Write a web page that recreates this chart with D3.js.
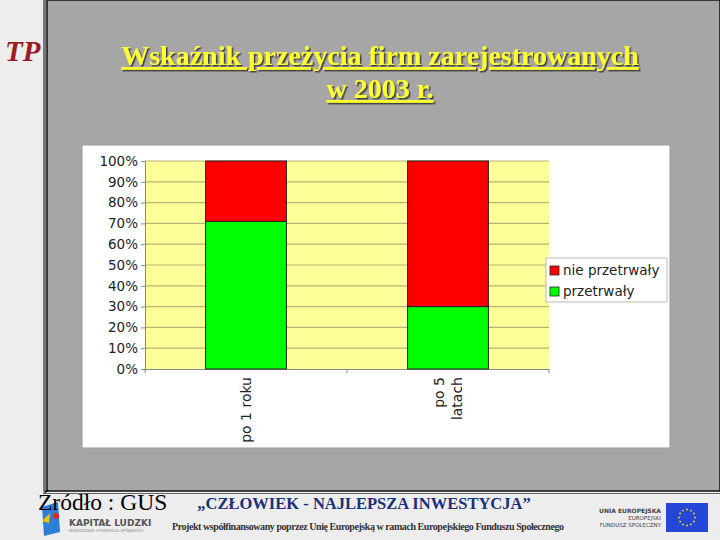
<!DOCTYPE html>
<html>
<head>
<meta charset="utf-8">
<script src="https://cdn.jsdelivr.net/npm/d3@7"></script>
<style>
  body { margin: 0; background: #ededed; }
  svg { display: block; }
</style>
</head>
<body>
<script>
var width = 720,
  height = 540;

// data
var categories = [["po 1 roku"], ["po 5", "latach"]];
var survived = [71, 30];          // przetrwały
var notSurvived = [29, 70];       // nie przetrwały
var seriesNames = ["nie przetrwały", "przetrwały"];
var seriesColors = ["#ff0000", "#00ff00"];
var yTicks = [0, 10, 20, 30, 40, 50, 60, 70, 80, 90, 100];

var svg = d3.select("body").append("svg")
  .attr("width", width)
  .attr("height", height);

var defs = svg.append("defs");
defs.append("filter").attr("id", "shadow")
  .attr("x", "-5%").attr("y", "-20%").attr("width", "110%").attr("height", "140%")
  .append("feDropShadow")
  .attr("dx", 1.5).attr("dy", 1.5).attr("stdDeviation", 0.6)
  .attr("flood-color", "#333").attr("flood-opacity", 0.9);

// slide background
svg.append("rect").attr("x", 0).attr("y", 0).attr("width", width).attr("height", height).attr("fill", "#ededed");
svg.append("rect").attr("x", 43).attr("y", 0).attr("width", 3).attr("height", 492).attr("fill", "#777");
svg.append("rect").attr("x", 47).attr("y", 0).attr("width", 673).attr("height", 491)
  .attr("fill", "#a6a6a6").attr("stroke", "#111").attr("stroke-width", 1.5);
svg.append("line").attr("x1", 43).attr("x2", 720).attr("y1", 493.5).attr("y2", 493.5).attr("stroke", "#666").attr("stroke-width", 1);

// TP logo
svg.append("text").attr("x", 5).attr("y", 61)
  .attr("font-family", "Liberation Serif, serif").attr("font-style", "italic").attr("font-weight", "bold")
  .attr("font-size", 29).attr("fill", "#9b1b24").text("TP");

// title
var title = svg.append("g")
  .attr("font-family", "Liberation Serif, serif").attr("font-weight", "bold")
  .attr("font-size", 28).attr("text-anchor", "middle")
  .attr("filter", "url(#shadow)");
[["Wskaźnik przeżycia firm zarejestrowanych", 65], ["w 2003 r.", 98]].forEach(function(t) {
  title.append("text").attr("x", 380).attr("y", t[1])
    .attr("fill", "#ffff33").attr("text-decoration", "underline").text(t[0]);
});

// chart box
svg.append("rect").attr("x", 82).attr("y", 145).attr("width", 588).attr("height", 303)
  .attr("fill", "#fff").attr("stroke", "#999");

var plot = { left: 145, right: 549, top: 161, bottom: 369 };

var x = d3.scaleBand()
  .domain(d3.range(categories.length))
  .range([plot.left, plot.right]);

var barFrac = 0.4;

var y = d3.scaleLinear()
  .domain([0, 100])
  .range([plot.bottom, plot.top]);

var g = svg.append("g");

g.append("rect").attr("x", plot.left).attr("y", plot.top)
  .attr("width", plot.right - plot.left).attr("height", plot.bottom - plot.top)
  .attr("fill", "#ffff99");

g.selectAll("line.grid")
  .data(yTicks.slice(1))
  .enter().append("line")
  .attr("class", "grid")
  .attr("x1", plot.left).attr("x2", plot.right)
  .attr("y1", function(d) { return y(d); }).attr("y2", function(d) { return y(d); })
  .attr("stroke", "#b8b27a").attr("stroke-width", 1.2);

// y axis
var yAxis = d3.axisLeft(y)
  .tickValues(yTicks)
  .tickSize(4)
  .tickFormat(function(d) { return d + "%"; });

g.append("g")
  .attr("transform", "translate(" + plot.left + ",0)")
  .call(yAxis)
  .call(function(s) {
    s.select(".domain").attr("stroke", "#888");
    s.selectAll(".tick line").attr("stroke", "#888");
    s.selectAll(".tick text").attr("font-family", "DejaVu Sans, sans-serif")
      .attr("font-size", 13.5).attr("fill", "#222").attr("x", -7);
  });

// x axis baseline and separator ticks
g.append("line").attr("x1", plot.left).attr("x2", plot.right)
  .attr("y1", plot.bottom + 0.5).attr("y2", plot.bottom + 0.5).attr("stroke", "#888");
g.selectAll("line.sep")
  .data([plot.left, (plot.left + plot.right) / 2, plot.right])
  .enter().append("line")
  .attr("x1", function(d) { return d; }).attr("x2", function(d) { return d; })
  .attr("y1", plot.bottom).attr("y2", plot.bottom + 4).attr("stroke", "#888");

// stacked bars
var stackData = categories.map(function(c, i) {
  return { i: i, "przetrwały": survived[i], "nie przetrwały": notSurvived[i] };
});
var stack = d3.stack().keys(["przetrwały", "nie przetrwały"]);
var layers = stack(stackData);

g.selectAll("g.layer")
  .data(layers)
  .enter().append("g")
  .attr("fill", function(d) { return d.key === "przetrwały" ? seriesColors[1] : seriesColors[0]; })
  .selectAll("rect")
  .data(function(d) { return d; })
  .enter().append("rect")
  .attr("x", function(d) { return x(d.data.i) + x.bandwidth() * (1 - barFrac) / 2; })
  .attr("width", x.bandwidth() * barFrac)
  .attr("y", function(d) { return y(d[1]); })
  .attr("height", function(d) { return y(d[0]) - y(d[1]); })
  .attr("stroke", "#222").attr("stroke-width", 1);

// category labels (rotated)
categories.forEach(function(lines, i) {
  var cx = x(i) + x.bandwidth() / 2;
  var t = svg.append("text")
    .attr("transform", "translate(" + cx + "," + (plot.bottom + 8) + ") rotate(-90)")
    .attr("text-anchor", "end")
    .attr("font-family", "DejaVu Sans, sans-serif").attr("font-size", 14).attr("fill", "#222");
  var n = lines.length;
  lines.forEach(function(l, k) {
    t.append("tspan").attr("x", 0)
      .attr("y", (k - (n - 1) / 2) * 18 + 5)
      .text(l);
  });
});

// legend
var legend = svg.append("g").attr("transform", "translate(546,258)");
legend.append("rect").attr("width", 121).attr("height", 44)
  .attr("fill", "#fff").attr("stroke", "#bbb");
seriesNames.forEach(function(name, i) {
  legend.append("rect").attr("x", 4).attr("y", 8 + i * 21).attr("width", 9).attr("height", 9)
    .attr("fill", seriesColors[i]).attr("stroke", "#222").attr("stroke-width", 0.8);
  legend.append("text").attr("x", 17).attr("y", 17 + i * 21)
    .attr("font-family", "DejaVu Sans, sans-serif").attr("font-size", 13.5).attr("fill", "#222")
    .text(name);
});

// footer
var foot = svg.append("g");
// Kapitał Ludzki logo
foot.append("path").attr("d", "M42,507 L58,502 L60,532 L44,536 Z").attr("fill", "#2d7fd8");
foot.append("circle").attr("cx", 56).attr("cy", 516).attr("r", 3).attr("fill", "#e52420");
foot.append("path").attr("d", "M42,521 L50,513 L49,523 Z").attr("fill", "#f5c400");
foot.append("text").attr("x", 69).attr("y", 525.5)
  .attr("font-family", "DejaVu Sans, sans-serif").attr("font-weight", "bold").attr("font-size", 9)
  .attr("fill", "#555").text("KAPITAŁ LUDZKI");
foot.append("text").attr("x", 69).attr("y", 531.5)
  .attr("font-family", "DejaVu Sans, sans-serif").attr("font-size", 4.2)
  .attr("fill", "#888").text("NARODOWA STRATEGIA SPÓJNOŚCI");

foot.append("text").attr("x", 38).attr("y", 510)
  .attr("font-family", "Liberation Serif, serif").attr("font-size", 23.5).attr("fill", "#000")
  .text("Źródło : GUS");

foot.append("text").attr("x", 364).attr("y", 509).attr("text-anchor", "middle")
  .attr("font-family", "Liberation Serif, serif").attr("font-weight", "bold").attr("font-size", 16.5)
  .attr("fill", "#1c2f7a").text("„CZŁOWIEK  -  NAJLEPSZA  INWESTYCJA”");
foot.append("text").attr("x", 368).attr("y", 530).attr("text-anchor", "middle")
  .attr("font-family", "Liberation Serif, serif").attr("font-weight", "bold").attr("font-size", 10)
  .attr("fill", "#333").attr("textLength", 392)
  .text("Projekt współfinansowany poprzez Unię Europejską w ramach Europejskiego Funduszu Społecznego");

// EU
var eu = foot.append("g").attr("font-family", "DejaVu Sans, sans-serif").attr("text-anchor", "end").attr("fill", "#444");
eu.append("text").attr("x", 661).attr("y", 513).attr("font-size", 6).attr("font-weight", "bold").text("UNIA EUROPEJSKA");
eu.append("text").attr("x", 661).attr("y", 520).attr("font-size", 5.5).text("EUROPEJSKI");
eu.append("text").attr("x", 661).attr("y", 527).attr("font-size", 5.5).text("FUNDUSZ SPOŁECZNY");
foot.append("rect").attr("x", 666).attr("y", 503).attr("width", 42).attr("height", 29).attr("fill", "#2447d8");
d3.range(12).forEach(function(k) {
  var a = k / 12 * 2 * Math.PI;
  foot.append("circle").attr("cx", 687 + 8 * Math.cos(a)).attr("cy", 517.5 + 8 * Math.sin(a))
    .attr("r", 0.9).attr("fill", "#ffdd00");
});
</script>
</body>
</html>
